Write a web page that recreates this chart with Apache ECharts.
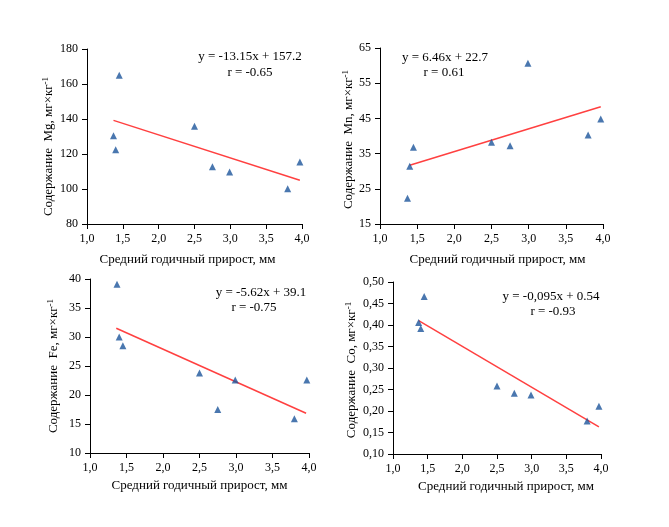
<!DOCTYPE html>
<html>
<head>
<meta charset="utf-8">
<script src="https://cdn.jsdelivr.net/npm/echarts@6/dist/echarts.min.js"></script>
<style>
html,body{margin:0;padding:0;background:#fff;}
#chart{width:669px;height:527px;}
</style>
</head>
<body>
<div id="chart"></div>
<script>
// Shared x values: mean annual growth, mm
const growth = [1.37, 1.40, 1.45, 2.50, 2.75, 2.99, 3.80, 3.97];
// Element contents, mg/kg
const mgValues = [130.4, 122.4, 165.0, 135.9, 112.7, 109.7, 100.2, 115.4];
const mnValues = [22.3, 31.4, 36.8, 38.2, 37.2, 60.7, 40.3, 44.8];
const feValues = [39.1, 30.0, 28.5, 23.8, 17.5, 22.6, 15.9, 22.6];
const coValues = [0.406, 0.392, 0.466, 0.258, 0.241, 0.237, 0.177, 0.211];
// Trend line endpoints [x, y]
const mgTrend = [[1.37, 139.2], [3.97, 105.0]];
const mnTrend = [[1.40, 31.7], [3.97, 48.3]];
const feTrend = [[1.36, 31.5], [3.96, 16.85]];
const coTrend = [[1.37, 0.410], [3.97, 0.163]];
// Labels
const xTitle = 'Средний годичный прирост, мм';
const yTitles = ['Содержание  Mg, мг×кг{sup|-1}', 'Содержание  Mn, мг×кг{sup|-1}', 'Содержание  Fe, мг×кг{sup|-1}', 'Содержание  Co, мг×кг{sup|-1}'];
const equations = ['y = -13.15x + 157.2', 'y = 6.46x + 22.7', 'y = -5.62x + 39.1', 'y = -0,095x + 0.54'];
const rValues = ['r = -0.65', 'r = 0.61', 'r = -0.75', 'r = -0.93'];
const yRanges = [[80, 180, 20], [15, 65, 10], [10, 40, 5], [0.10, 0.50, 0.05]];

const FONT = '"Liberation Serif", "Times New Roman", serif';
const grids = [
  {left: 87, top: 49, width: 215, height: 175},
  {left: 380, top: 48, width: 223, height: 176},
  {left: 90, top: 279, width: 219, height: 174},
  {left: 393, top: 282, width: 208, height: 172}
];
const yGaps = [31, 20, 29, 34];
const yPads = [[0, 20, 0, 0], [0, 7, 0, 0], [0, 0, 0, 0], [0, 4, 0, 0]];
const xGaps = [29, 29, 26, 26];
const xPads = [[0, 14, 0, 0], [0, 0, 0, 12], [0, 0, 0, 0], [0, 0, 0, 18]];
const yDecimals = [0, 0, 0, 2];
const valueSets = [mgValues, mnValues, feValues, coValues];
const trendSets = [mgTrend, mnTrend, feTrend, coTrend];
const eqPos = [[250, 57, 250, 73], [445, 58, 444, 73], [261, 293, 254, 308], [551, 297, 553, 312]];

const axisLine = {show: true, lineStyle: {color: '#000', width: 1}};
const axisTick = {show: true, inside: false, length: 5, lineStyle: {color: '#000'}};

const xAxes = grids.map((g, i) => ({
  type: 'value', gridIndex: i, min: 1, max: 4, interval: 0.5,
  axisLine: axisLine, axisTick: axisTick, splitLine: {show: false},
  axisLabel: {fontFamily: FONT, fontSize: 12, color: '#000', margin: 9,
    formatter: v => v.toFixed(1).replace('.', ',')},
  name: xTitle, nameLocation: 'middle', nameGap: xGaps[i],
  nameTextStyle: {fontFamily: FONT, fontSize: 13, color: '#000', padding: xPads[i]}
}));
const yAxes = grids.map((g, i) => ({
  type: 'value', gridIndex: i, min: yRanges[i][0], max: yRanges[i][1], interval: yRanges[i][2],
  axisLine: axisLine, axisTick: axisTick, splitLine: {show: false},
  axisLabel: {fontFamily: FONT, fontSize: 12, color: '#000', margin: 9,
    formatter: v => (Math.round(v * 1000) / 1000).toFixed(yDecimals[i]).replace('.', ',')},
  name: yTitles[i], nameLocation: 'middle', nameGap: yGaps[i],
  nameTextStyle: {fontFamily: FONT, fontSize: 13, color: '#000', padding: yPads[i],
    rich: {sup: {fontFamily: FONT, fontSize: 9, color: '#000', verticalAlign: 'top', padding: [0, 0, 6, 0]}}}
}));

const series = [];
valueSets.forEach((vals, i) => {
  series.push({
    type: 'line', xAxisIndex: i, yAxisIndex: i, data: trendSets[i],
    symbol: 'none', lineStyle: {color: '#ff4040', width: 1.5}, silent: true, z: 2
  });
  series.push({
    type: 'scatter', xAxisIndex: i, yAxisIndex: i,
    data: growth.map((x, k) => [x, vals[k]]),
    symbol: 'triangle', symbolSize: 7, itemStyle: {color: '#1d559b'}, z: 3
  });
});

const graphics = [];
eqPos.forEach((p, i) => {
  graphics.push({type: 'text', x: p[0], y: p[1], style: {text: equations[i], font: '13px ' + FONT, fill: '#000', textAlign: 'center', textVerticalAlign: 'middle'}});
  graphics.push({type: 'text', x: p[2], y: p[3], style: {text: rValues[i], font: '13px ' + FONT, fill: '#000', textAlign: 'center', textVerticalAlign: 'middle'}});
});

const chart = echarts.init(document.getElementById('chart'), null, {renderer: 'canvas'});
chart.setOption({
  animation: false,
  backgroundColor: '#fff',
  grid: grids.map(g => Object.assign({containLabel: false}, g)),
  xAxis: xAxes,
  yAxis: yAxes,
  series: series,
  graphic: graphics
});
</script>
</body>
</html>
